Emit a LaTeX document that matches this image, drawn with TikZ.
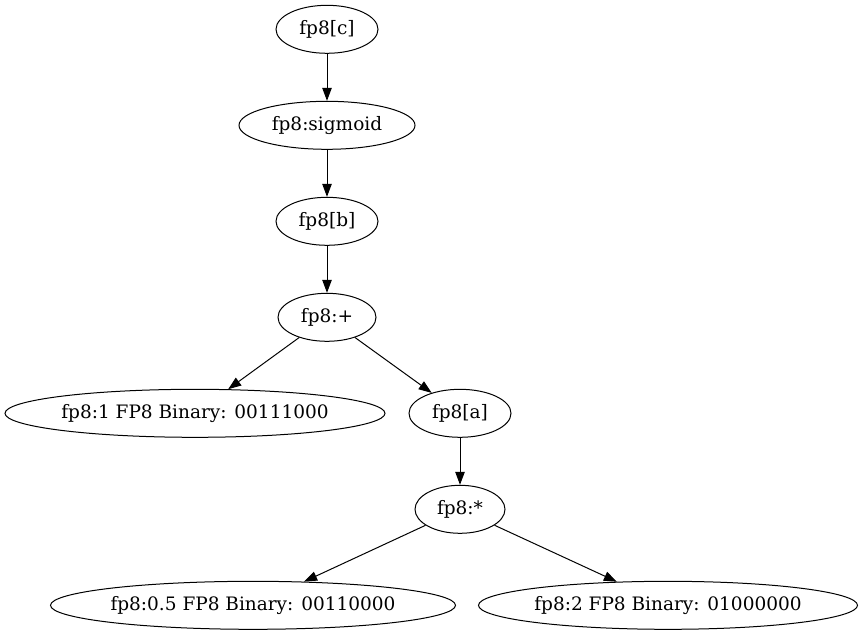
\documentclass[tikz,border=0pt]{standalone}
\usepackage{fontspec}
\setmainfont{DejaVu Serif}
\usetikzlibrary{shapes.geometric,arrows.meta}
\begin{document}
\begin{tikzpicture}[x=1pt,y=-1pt,
  nd/.style={draw, ellipse, line width=1pt, inner sep=0pt, minimum height=48pt,
    font=\fontsize{18.5}{20}\selectfont},
  edge/.style={draw, line width=1pt, -{Triangle[length=13pt,width=9.5pt]}}]
\fill[white] (0,0) rectangle (864,635);
\useasboundingbox (0,0) rectangle (864,635);
\node[nd, minimum width=102pt] (c) at (327,29.3) {fp8[c]};
\node[nd, minimum width=176pt] (sig) at (327,125.3) {fp8:sigmoid};
\node[nd, minimum width=102pt] (b) at (327,221.3) {fp8[b]};
\node[nd, minimum width=98pt] (plus) at (327,317.3) {fp8:+};
\node[nd, minimum width=380pt] (one) at (195,413.3) {fp8:1 FP8 Binary: 00111000};
\node[nd, minimum width=102pt] (a) at (460,413.3) {fp8[a]};
\node[nd, minimum width=90pt] (mul) at (460,509.3) {fp8:*};
\node[nd, minimum width=405pt] (half) at (253,605.3) {fp8:0.5 FP8 Binary: 00110000};
\node[nd, minimum width=379pt] (two) at (668,605.3) {fp8:2 FP8 Binary: 01000000};
\draw[edge] (c) -- (sig);
\draw[edge] (sig) -- (b);
\draw[edge] (b) -- (plus);
\draw[edge] (plus) -- (one);
\draw[edge] (plus) -- (a);
\draw[edge] (a) -- (mul);
\draw[edge] (mul) -- (half);
\draw[edge] (mul) -- (two);
\end{tikzpicture}
\end{document}
